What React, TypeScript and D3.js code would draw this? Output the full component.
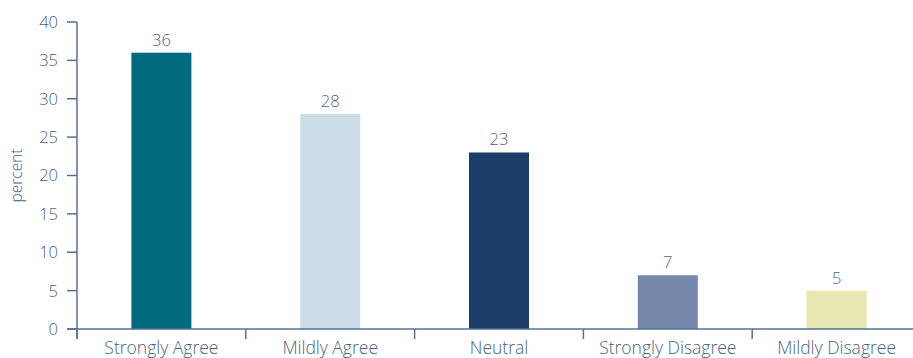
import React from "react";
import * as d3 from "d3";

const categories = ["Strongly Agree", "Mildly Agree", "Neutral", "Strongly Disagree", "Mildly Disagree"];
const values = [36, 28, 23, 7, 5];
const colors = ["#006a7e", "#cddde7", "#1b3d68", "#7587aa", "#e7e7af"];
const yTicks = [0, 5, 10, 15, 20, 25, 30, 35, 40];

const W = 913;
const H = 358;
const axisColor = "#56708f";
const textColor = "#4a6283";
const font = "'Open Sans', Lato, sans-serif";

export default function App() {
  const x = d3.scaleBand<string>().domain(categories).range([77, 921]).padding(0);
  const y = d3.scaleLinear().domain([0, 40]).range([329, 22]);
  const barW = 60;
  const fmt = d3.format(".0f");
  const bounds = [...categories.map((c) => x(c) as number), 921];

  return (
    <svg
      width={W}
      height={H}
      style={{ position: "absolute", left: 0, top: 0, background: "#fff" }}
      fontFamily={font}
      fontWeight={300}
    >
      {/* bars */}
      {categories.map((c, i) => {
        const cx = (x(c) as number) + x.bandwidth() / 2;
        return (
          <g key={c}>
            <rect
              x={cx - barW / 2}
              y={y(values[i])}
              width={barW}
              height={y(0) - y(values[i])}
              fill={colors[i]}
            />
            <text
              x={cx}
              y={y(values[i]) - 7}
              textAnchor="middle"
              fontSize={16.5}
              fill={textColor}
            >
              {fmt(values[i])}
            </text>
            <text x={cx} y={354} textAnchor="middle" fontSize={17.5} fill={textColor}>
              {c}
            </text>
          </g>
        );
      })}

      {/* y axis */}
      <line x1={77} x2={77} y1={y(40)} y2={339} stroke={axisColor} strokeWidth={1.5} />
      {yTicks.map((t) => (
        <g key={t}>
          <line x1={67} x2={77} y1={y(t)} y2={y(t)} stroke={axisColor} strokeWidth={1.5} />
          <text
            x={58}
            y={y(t)}
            dy="0.36em"
            textAnchor="end"
            fontSize={16.5}
            fill={textColor}
          >
            {t}
          </text>
        </g>
      ))}
      <text
        transform={`translate(22, ${(y(0) + y(40)) / 2}) rotate(-90)`}
        textAnchor="middle"
        fontSize={15.5}
        fill={textColor}
      >
        percent
      </text>

      {/* x axis */}
      <line x1={67} x2={W} y1={y(0)} y2={y(0)} stroke={axisColor} strokeWidth={1.5} />
      {bounds.map((b, i) => (
        <line key={i} x1={b} x2={b} y1={y(0)} y2={339} stroke={axisColor} strokeWidth={1.5} />
      ))}
    </svg>
  );
}
